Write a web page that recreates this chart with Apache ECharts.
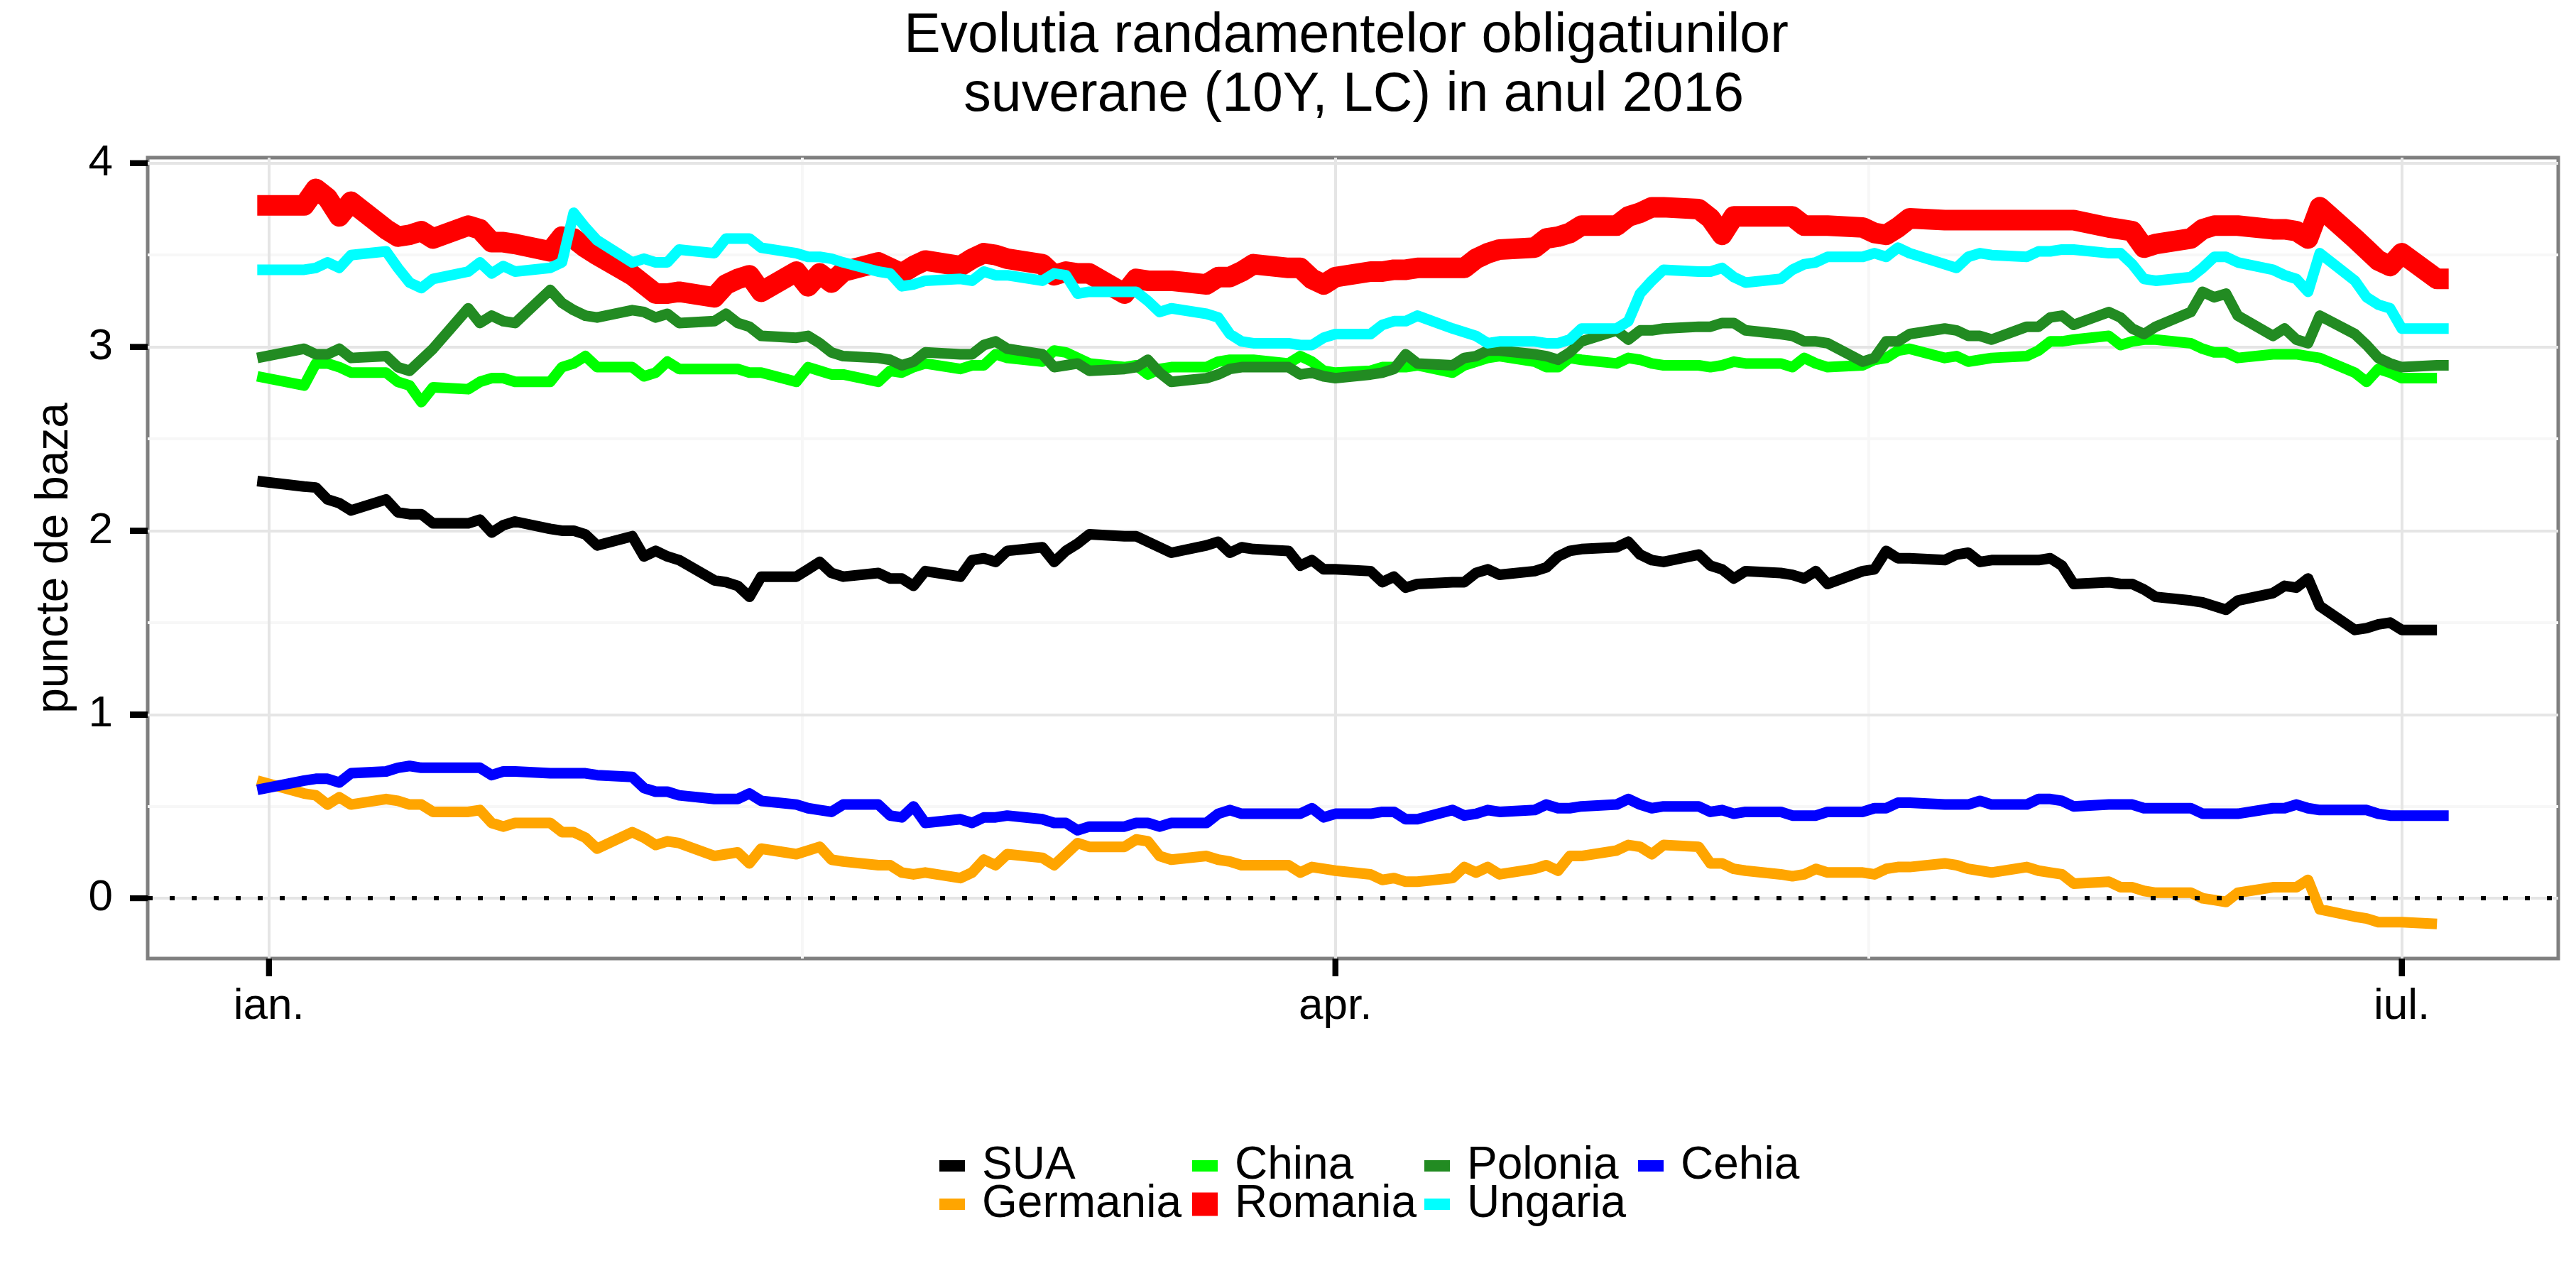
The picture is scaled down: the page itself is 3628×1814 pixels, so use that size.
<!DOCTYPE html>
<html>
<head>
<meta charset="utf-8">
<script src="https://cdn.jsdelivr.net/npm/echarts@6/dist/echarts.min.js"></script>
<style>
html,body{margin:0;padding:0;background:#ffffff;}
#chart{width:3628px;height:1814px;}
</style>
</head>
<body>
<div id="chart"></div>
<script>
// ---------------- DATA ----------------
const dates = [
"2015-12-31",
"2016-01-04","2016-01-05","2016-01-06","2016-01-07","2016-01-08",
"2016-01-11","2016-01-12","2016-01-13","2016-01-14","2016-01-15",
"2016-01-18","2016-01-19","2016-01-20","2016-01-21","2016-01-22",
"2016-01-25","2016-01-26","2016-01-27","2016-01-28","2016-01-29",
"2016-02-01","2016-02-02","2016-02-03","2016-02-04","2016-02-05",
"2016-02-08","2016-02-09","2016-02-10","2016-02-11","2016-02-12",
"2016-02-15","2016-02-16","2016-02-17","2016-02-18","2016-02-19",
"2016-02-22","2016-02-23","2016-02-24","2016-02-25","2016-02-26",
"2016-02-29","2016-03-01","2016-03-02","2016-03-03","2016-03-04",
"2016-03-07","2016-03-08","2016-03-09","2016-03-10","2016-03-11",
"2016-03-14","2016-03-15","2016-03-16","2016-03-17","2016-03-18",
"2016-03-21","2016-03-22","2016-03-23","2016-03-24","2016-03-25",
"2016-03-28","2016-03-29","2016-03-30","2016-03-31","2016-04-01",
"2016-04-04","2016-04-05","2016-04-06","2016-04-07","2016-04-08",
"2016-04-11","2016-04-12","2016-04-13","2016-04-14","2016-04-15",
"2016-04-18","2016-04-19","2016-04-20","2016-04-21","2016-04-22",
"2016-04-25","2016-04-26","2016-04-27","2016-04-28","2016-04-29",
"2016-05-02","2016-05-03","2016-05-04","2016-05-05","2016-05-06",
"2016-05-09","2016-05-10","2016-05-11","2016-05-12","2016-05-13",
"2016-05-16","2016-05-17","2016-05-18","2016-05-19","2016-05-20",
"2016-05-23","2016-05-24","2016-05-25","2016-05-26","2016-05-27",
"2016-05-30","2016-05-31","2016-06-01","2016-06-02","2016-06-03",
"2016-06-06","2016-06-07","2016-06-08","2016-06-09","2016-06-10",
"2016-06-13","2016-06-14","2016-06-15","2016-06-16","2016-06-17",
"2016-06-20","2016-06-21","2016-06-22","2016-06-23","2016-06-24",
"2016-06-27","2016-06-28","2016-06-29","2016-06-30","2016-07-01",
"2016-07-04","2016-07-05"
];

const SUA = [
2.27,
2.24,2.235,2.17,2.15,2.11,
2.17,2.10,2.09,2.09,2.04,
2.04,2.06,1.99,2.03,2.05,
2.01,2.00,2.00,1.98,1.92,
1.97,1.86,1.89,1.86,1.84,
1.73,1.72,1.70,1.64,1.75,
1.75,1.79,1.83,1.77,1.75,
1.77,1.74,1.74,1.70,1.78,
1.75,1.84,1.85,1.83,1.89,
1.91,1.83,1.89,1.93,1.98,
1.97,1.97,1.94,1.91,1.88,
1.92,1.94,1.88,1.91,1.90,
1.89,1.81,1.84,1.79,1.79,
1.78,1.72,1.75,1.69,1.71,
1.72,1.72,1.77,1.79,1.76,
1.78,1.80,1.86,1.89,1.90,
1.91,1.94,1.87,1.84,1.83,
1.87,1.81,1.79,1.74,1.78,
1.77,1.76,1.74,1.78,1.71,
1.78,1.79,1.89,1.85,1.85,
1.84,1.87,1.88,1.83,1.84,
1.84,1.84,1.85,1.81,1.71,
1.72,1.71,1.71,1.68,1.64,
1.62,1.61,1.59,1.57,1.62,
1.66,1.70,1.69,1.74,1.59,
1.46,1.47,1.49,1.50,1.46,
1.46,null
];

const Germania = [
0.64,
0.57,0.56,0.51,0.55,0.51,
0.54,0.53,0.51,0.51,0.47,
0.47,0.48,0.41,0.39,0.41,
0.41,0.36,0.36,0.33,0.27,
0.36,0.33,0.29,0.31,0.30,
0.23,0.24,0.25,0.19,0.27,
0.24,0.26,0.28,0.21,0.20,
0.18,0.18,0.14,0.13,0.14,
0.11,0.14,0.21,0.18,0.24,
0.22,0.18,0.24,0.30,0.28,
0.28,0.32,0.31,0.23,0.21,
0.23,0.21,0.20,0.18,0.18,
0.18,0.14,0.17,0.16,0.15,
0.13,0.10,0.11,0.09,0.09,
0.11,0.17,0.14,0.17,0.13,
0.16,0.18,0.15,0.23,0.23,
0.26,0.29,0.28,0.24,0.29,
0.28,0.19,0.19,0.16,0.15,
0.13,0.12,0.13,0.16,0.14,
0.14,0.13,0.16,0.17,0.17,
0.19,0.18,0.16,0.15,0.14,
0.17,0.15,0.14,0.13,0.08,
0.09,0.06,0.06,0.04,0.03,
0.03,0.00,-0.01,-0.02,0.03,
0.06,0.06,0.06,0.10,-0.06,
-0.10,-0.11,-0.13,-0.13,-0.13,
-0.14,null
];

const China = [
2.84,
2.79,2.91,2.91,2.89,2.86,
2.86,2.81,2.79,2.70,2.78,
2.77,2.81,2.83,2.83,2.81,
2.81,2.89,2.91,2.95,2.89,
2.89,2.84,2.86,2.92,2.88,
2.88,2.88,2.88,2.86,2.86,
2.81,2.89,2.87,2.85,2.85,
2.81,2.87,2.86,2.89,2.91,
2.88,2.90,2.90,2.96,2.94,
2.92,2.98,2.97,2.94,2.91,
2.89,2.90,2.85,2.88,2.89,
2.89,2.92,2.93,2.93,2.93,
2.91,2.95,2.92,2.87,2.86,
2.87,2.89,2.89,2.89,2.90,
2.86,2.90,2.92,2.94,2.95,
2.92,2.89,2.89,2.94,2.93,
2.91,2.94,2.93,2.91,2.90,
2.90,2.89,2.90,2.92,2.91,
2.91,2.89,2.94,2.91,2.89,
2.90,2.93,2.94,2.98,2.99,
2.94,2.95,2.92,2.93,2.94,
2.95,2.98,3.03,3.03,3.04,
3.06,3.01,3.03,3.04,3.04,
3.02,2.99,2.97,2.97,2.94,
2.96,2.96,2.96,2.95,2.94,
2.86,2.81,2.88,2.86,2.83,
2.83,null
];

const Romania = [
3.77,
3.77,3.86,3.81,3.71,3.79,
3.64,3.60,3.61,3.63,3.59,
3.66,3.64,3.57,3.57,3.56,
3.52,3.60,3.59,3.54,3.50,
3.39,3.34,3.29,3.29,3.30,
3.27,3.34,3.37,3.39,3.30,
3.41,3.33,3.40,3.35,3.41,
3.46,3.43,3.40,3.44,3.47,
3.44,3.48,3.51,3.50,3.48,
3.45,3.39,3.41,3.40,3.40,
3.29,3.37,3.36,3.36,3.36,
3.34,3.38,3.38,3.41,3.45,
3.43,3.43,3.37,3.34,3.38,
3.41,3.41,3.42,3.42,3.43,
3.43,3.43,3.48,3.51,3.53,
3.54,3.59,3.60,3.62,3.66,
3.66,3.71,3.73,3.76,3.76,
3.75,3.70,3.61,3.71,3.71,
3.71,3.71,3.66,3.66,3.66,
3.65,3.62,3.61,3.65,3.70,
3.69,3.69,3.69,3.69,3.69,
3.69,3.69,3.69,3.69,3.69,
3.65,3.64,3.63,3.54,3.56,
3.59,3.64,3.66,3.66,3.66,
3.64,3.64,3.63,3.59,3.76,
3.59,3.53,3.47,3.44,3.51,
3.37,3.37
];

const Polonia = [
2.94,
2.99,2.96,2.96,2.99,2.94,
2.95,2.89,2.87,2.93,2.99,
3.21,3.13,3.17,3.14,3.13,
3.31,3.24,3.20,3.17,3.16,
3.20,3.19,3.16,3.18,3.13,
3.14,3.18,3.13,3.11,3.06,
3.05,3.06,3.02,2.97,2.95,
2.94,2.93,2.90,2.92,2.97,
2.96,2.96,3.01,3.03,2.99,
2.96,2.89,2.90,2.91,2.87,
2.88,2.89,2.93,2.86,2.81,
2.83,2.85,2.88,2.89,2.89,
2.89,2.85,2.86,2.84,2.83,
2.85,2.86,2.88,2.96,2.91,
2.90,2.94,2.95,2.98,2.98,
2.96,2.95,2.93,2.97,3.03,
3.09,3.04,3.09,3.09,3.10,
3.11,3.11,3.13,3.13,3.09,
3.07,3.06,3.03,3.03,3.02,
2.92,2.94,3.03,3.03,3.07,
3.10,3.09,3.06,3.06,3.04,
3.11,3.11,3.16,3.17,3.12,
3.19,3.16,3.10,3.07,3.11,
3.19,3.30,3.27,3.29,3.17,
3.06,3.10,3.04,3.02,3.17,
3.07,3.01,2.94,2.91,2.89,
2.90,2.90
];

const Ungaria = [
3.42,
3.42,3.43,3.46,3.43,3.50,
3.52,3.43,3.35,3.32,3.37,
3.41,3.46,3.40,3.44,3.41,
3.43,3.46,3.73,3.65,3.58,
3.46,3.48,3.46,3.46,3.53,
3.51,3.59,3.59,3.59,3.54,
3.51,3.49,3.49,3.48,3.46,
3.41,3.40,3.33,3.34,3.36,
3.37,3.36,3.41,3.39,3.39,
3.36,3.40,3.39,3.29,3.30,
3.30,3.30,3.25,3.19,3.21,
3.18,3.16,3.07,3.03,3.02,
3.02,3.01,3.01,3.05,3.07,
3.07,3.12,3.14,3.14,3.17,
3.10,3.08,3.06,3.02,3.03,
3.03,3.02,3.02,3.04,3.10,
3.10,3.14,3.29,3.36,3.42,
3.41,3.41,3.43,3.38,3.35,
3.37,3.42,3.45,3.46,3.49,
3.49,3.51,3.49,3.54,3.51,
3.45,3.43,3.49,3.51,3.50,
3.49,3.52,3.52,3.53,3.53,
3.51,3.51,3.45,3.37,3.36,
3.38,3.43,3.49,3.49,3.46,
3.42,3.39,3.37,3.30,3.51,
3.36,3.27,3.23,3.21,3.10,
3.10,3.10
];

const Cehia = [
0.59,
0.64,0.65,0.65,0.63,0.68,
0.69,0.71,0.72,0.71,0.71,
0.71,0.71,0.67,0.69,0.69,
0.68,0.68,0.68,0.68,0.67,
0.66,0.60,0.58,0.58,0.56,
0.54,0.54,0.54,0.57,0.53,
0.51,0.49,0.48,0.47,0.51,
0.51,0.45,0.44,0.50,0.41,
0.43,0.41,0.44,0.44,0.45,
0.43,0.41,0.41,0.37,0.39,
0.39,0.41,0.41,0.39,0.41,
0.41,0.46,0.48,0.46,0.46,
0.46,0.46,0.49,0.44,0.46,
0.46,0.47,0.47,0.43,0.43,
0.48,0.45,0.46,0.48,0.47,
0.48,0.51,0.49,0.49,0.50,
0.51,0.54,0.51,0.49,0.50,
0.50,0.47,0.48,0.46,0.47,
0.47,0.45,0.45,0.45,0.47,
0.47,0.49,0.49,0.52,0.52,
0.51,0.51,0.51,0.53,0.51,
0.51,0.54,0.54,0.53,0.50,
0.51,0.51,0.51,0.49,0.49,
0.49,0.46,0.46,0.46,0.46,
0.49,0.49,0.51,0.49,0.48,
0.48,0.48,0.46,0.45,0.45,
0.45,0.45
];

const seriesNames = ["SUA","Germania","China","Romania","Polonia","Ungaria","Cehia"];
const xTickDates = ["2016-01-01","2016-04-01","2016-07-01"];
const xTickLabels = ["ian.","apr.","iul."];
const xMinorDates = ["2016-02-15 12:00","2016-05-16 12:00"];
const yTicks = [0,1,2,3,4];
const yMinor = [0.5,1.5,2.5,3.5];
const titleText = "Evolutia randamentelor obligatiunilor\n suverane (10Y, LC) in anul 2016";
const yAxisTitle = "puncte de baza";

// ---------------- STYLE ----------------
const FONT = '"Liberation Sans", Arial, Helvetica, sans-serif';
const valuesByName = {SUA, Germania, China, Romania, Polonia, Ungaria, Cehia};
const colorByName = {SUA:"#000000", Germania:"#FFA500", China:"#00FF00", Romania:"#FF0000",
                     Polonia:"#228B22", Ungaria:"#00FFFF", Cehia:"#0000FF"};
const legendPos = {SUA:[1323,1610], Germania:[1323,1664], China:[1679,1610], Romania:[1679,1664],
                   Polonia:[2006,1610], Ungaria:[2006,1664], Cehia:[2307,1610]};
const TICK_LEN = 25, TICK_W = 8;

function ts(s){
  const parts = s.split(" ");
  const d = parts[0].split("-").map(Number);
  let h = 0, mi = 0;
  if (parts[1]) { const t = parts[1].split(":").map(Number); h = t[0]; mi = t[1]; }
  return new Date(d[0], d[1]-1, d[2], h, mi).getTime();
}
const xTickTs = xTickDates.map(ts);
const X_MIN = ts("2015-12-21 15:36"), X_MAX = ts("2016-07-14 08:24");
const Y_MIN = -0.328, Y_MAX = 4.03;

const lineSeries = seriesNames.map((n, i) => ({
  name: n,
  type: "line",
  data: dates.map((d, j) => [ts(d), valuesByName[n][j]]),
  symbol: "none",
  showSymbol: false,
  smooth: false,
  z: 10 + i,
  silent: true,
  animation: false,
  itemStyle: {color: colorByName[n]},
  lineStyle: {color: colorByName[n], width: n === "Romania" ? 29 : 15, cap: "butt", join: "round"},
  emphasis: {disabled: true}
}));

const majorStyle = {color: "#E5E5E5", width: 4, type: "solid"};
const minorStyle = {color: "#F7F7F7", width: 4, type: "solid"};

const gridSeries = {
  name: "_grid", type: "line", data: [], z: 1, silent: true, animation: false,
  markLine: {
    silent: true, z: 1, animation: false, symbol: ["none","none"], label: {show: false},
    data: [].concat(
      xMinorDates.map(d => ({xAxis: ts(d), lineStyle: minorStyle})),
      yMinor.map(v => ({yAxis: v, lineStyle: minorStyle})),
      xTickDates.map(d => ({xAxis: ts(d), lineStyle: majorStyle})),
      yTicks.map(v => ({yAxis: v, lineStyle: majorStyle}))
    )
  }
};

const zeroSeries = {
  name: "_zero", type: "line", data: [], z: 40, silent: true, animation: false,
  markLine: {
    silent: true, z: 40, animation: false, symbol: ["none","none"], label: {show: false},
    data: [{yAxis: 0, lineStyle: {color: "#000000", width: 6, type: [7, 24], cap: "butt"}}]
  }
};

// tick marks as a custom series positioned through the axes' scales
const xTickSeries = {
  name: "_xticks", type: "custom", coordinateSystem: "cartesian2d", silent: true, clip: false,
  z: 60, animation: false,
  data: xTickTs.map(t => [t, Y_MIN]), encode: {x: 0, y: 1},
  renderItem: function (params, api) {
    const p = api.coord([api.value(0), api.value(1)]);
    return {type: "rect", shape: {x: p[0] - TICK_W / 2, y: p[1], width: TICK_W, height: TICK_LEN},
            style: {fill: "#000000"}};
  }
};
const yTickSeries = {
  name: "_yticks", type: "custom", coordinateSystem: "cartesian2d", silent: true, clip: false,
  z: 60, animation: false,
  data: yTicks.map(v => [X_MIN, v]), encode: {x: 0, y: 1},
  renderItem: function (params, api) {
    const p = api.coord([api.value(0), api.value(1)]);
    return {type: "rect", shape: {x: p[0] - TICK_LEN, y: p[1] - TICK_W / 2, width: TICK_LEN, height: TICK_W},
            style: {fill: "#000000"}};
  }
};

const legends = seriesNames.map(n => ({
  data: [{name: n, icon: "rect"}],
  left: legendPos[n][0], top: legendPos[n][1],
  orient: "horizontal", padding: 0,
  itemWidth: 36, itemHeight: n === "Romania" ? 33 : 16,
  selectedMode: false,
  itemStyle: {borderWidth: 0},
  textStyle: {fontSize: 64, lineHeight: 64, fontFamily: FONT, color: "#000000", padding: [0,0,0,19]}
}));

const option = {
  backgroundColor: "#ffffff",
  animation: false,
  title: {
    text: titleText, left: 1896, top: 10, textAlign: "center", padding: 0,
    textStyle: {fontSize: 77, lineHeight: 83, fontWeight: "normal", fontFamily: FONT, color: "#000000"}
  },
  legend: legends,
  grid: {left: 208, top: 222, width: 3395, height: 1128, show: true,
         borderColor: "#7F7F7F", borderWidth: 5, backgroundColor: "transparent",
         containLabel: false, outerBoundsMode: "none"},
  xAxis: {
    type: "value", position: "bottom",
    min: X_MIN, max: X_MAX,
    axisLine: {show: false, onZero: false},
    splitLine: {show: false},
    axisTick: {show: true, inside: false, length: TICK_LEN, customValues: xTickTs,
               lineStyle: {color: "#000000", width: TICK_W}},
    axisLabel: {
      customValues: xTickTs, margin: 37, fontSize: 62, fontFamily: FONT, color: "#000000",
      hideOverlap: false,
      formatter: function (v) {
        let best = 0, bd = Infinity;
        xTickTs.forEach((t, i) => { const dd = Math.abs(t - v); if (dd < bd) { bd = dd; best = i; } });
        return xTickLabels[best];
      }
    }
  },
  yAxis: {
    type: "value", position: "left", min: Y_MIN, max: Y_MAX,
    axisLine: {show: false, onZero: false},
    splitLine: {show: false},
    axisTick: {show: true, inside: false, length: TICK_LEN, customValues: yTicks,
               lineStyle: {color: "#000000", width: TICK_W}},
    axisLabel: {customValues: yTicks, margin: 49, fontSize: 62, fontFamily: FONT, color: "#000000"},
    name: yAxisTitle, nameLocation: "middle", nameGap: 99,
    nameTextStyle: {fontSize: 64, lineHeight: 64, fontFamily: FONT, color: "#000000"}
  },
  series: [gridSeries].concat(lineSeries, [zeroSeries, xTickSeries, yTickSeries])
};

const chart = echarts.init(document.getElementById("chart"), null, {renderer: "canvas"});
chart.setOption(option);

// same tick marks also as graphic rects, placed via the chart's own scales
const tickGraphics = [];
xTickTs.forEach(function (t) {
  const p = chart.convertToPixel({xAxisIndex: 0, yAxisIndex: 0}, [t, Y_MIN]);
  if (p && isFinite(p[0]) && isFinite(p[1])) {
    tickGraphics.push({type: "rect", silent: true, z: 100,
      shape: {x: p[0] - TICK_W / 2, y: p[1], width: TICK_W, height: TICK_LEN},
      style: {fill: "#000000"}});
  }
});
yTicks.forEach(function (v) {
  const p = chart.convertToPixel({xAxisIndex: 0, yAxisIndex: 0}, [X_MIN, v]);
  if (p && isFinite(p[0]) && isFinite(p[1])) {
    tickGraphics.push({type: "rect", silent: true, z: 100,
      shape: {x: p[0] - TICK_LEN, y: p[1] - TICK_W / 2, width: TICK_LEN, height: TICK_W},
      style: {fill: "#000000"}});
  }
});
chart.setOption({graphic: tickGraphics});
</script>
</body>
</html>
